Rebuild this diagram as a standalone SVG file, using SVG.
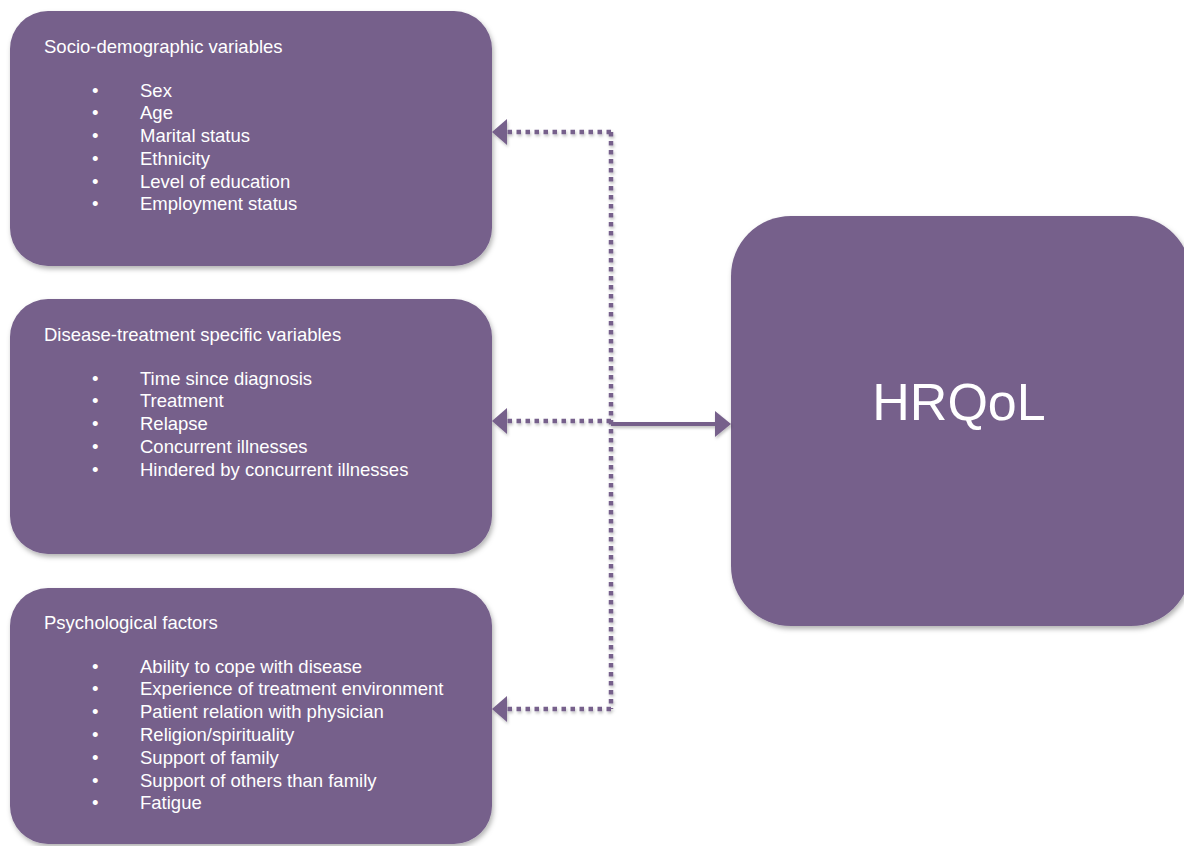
<svg xmlns="http://www.w3.org/2000/svg" width="1184" height="846" viewBox="0 0 1184 846">
  <defs>
    <filter id="sh" x="-10%" y="-10%" width="120%" height="125%">
      <feDropShadow dx="1.5" dy="3" stdDeviation="2.5" flood-color="#000" flood-opacity="0.3"/>
    </filter>
    <filter id="lsh" x="-10%" y="-50%" width="120%" height="200%">
      <feDropShadow dx="1" dy="2" stdDeviation="1.5" flood-color="#000" flood-opacity="0.25"/>
    </filter>
    <style>
      .box { fill: #76608B; filter: url(#sh); }
      .t { font-family: "Liberation Sans", Arial, sans-serif; font-size: 18.5px; fill: #ffffff; }
      .big { font-family: "Liberation Sans", Arial, sans-serif; font-size: 52px; fill: #ffffff; text-anchor: middle; }
      .dot { fill: none; stroke: #76608B; stroke-width: 4.5; stroke-dasharray: 4.5 4.5; }
      .sol { fill: none; stroke: #76608B; stroke-width: 4; }
      .ah { fill: #76608B; }
    </style>
  </defs>

  <g id="socio">
    <rect class="box" x="10" y="11" width="482" height="255" rx="38" ry="38"/>
    <text class="t" x="44" y="53">Socio-demographic variables</text>
    <text class="t" x="92" y="97">•</text><text class="t" x="140" y="97">Sex</text>
    <text class="t" x="92" y="119">•</text><text class="t" x="140" y="119">Age</text>
    <text class="t" x="92" y="142">•</text><text class="t" x="140" y="142">Marital status</text>
    <text class="t" x="92" y="165">•</text><text class="t" x="140" y="165">Ethnicity</text>
    <text class="t" x="92" y="188">•</text><text class="t" x="140" y="188">Level of education</text>
    <text class="t" x="92" y="210">•</text><text class="t" x="140" y="210">Employment status</text>
  </g>

  <g id="disease">
    <rect class="box" x="10" y="299" width="482" height="255" rx="38" ry="38"/>
    <text class="t" x="44" y="341">Disease-treatment specific variables</text>
    <text class="t" x="92" y="385">•</text><text class="t" x="140" y="385">Time since diagnosis</text>
    <text class="t" x="92" y="407">•</text><text class="t" x="140" y="407">Treatment</text>
    <text class="t" x="92" y="430">•</text><text class="t" x="140" y="430">Relapse</text>
    <text class="t" x="92" y="453">•</text><text class="t" x="140" y="453">Concurrent illnesses</text>
    <text class="t" x="92" y="476">•</text><text class="t" x="140" y="476">Hindered by concurrent illnesses</text>
  </g>

  <g id="psych">
    <rect class="box" x="10" y="588" width="482" height="256" rx="38" ry="38"/>
    <text class="t" x="44" y="629">Psychological factors</text>
    <text class="t" x="92" y="673">•</text><text class="t" x="140" y="673">Ability to cope with disease</text>
    <text class="t" x="92" y="695">•</text><text class="t" x="140" y="695">Experience of treatment environment</text>
    <text class="t" x="92" y="718">•</text><text class="t" x="140" y="718">Patient relation with physician</text>
    <text class="t" x="92" y="741">•</text><text class="t" x="140" y="741">Religion/spirituality</text>
    <text class="t" x="92" y="764">•</text><text class="t" x="140" y="764">Support of family</text>
    <text class="t" x="92" y="787">•</text><text class="t" x="140" y="787">Support of others than family</text>
    <text class="t" x="92" y="809">•</text><text class="t" x="140" y="809">Fatigue</text>
  </g>

  <g id="hrqol">
    <rect class="box" x="731" y="216" width="460" height="410" rx="60" ry="60"/>
    <text class="big" x="959" y="420">HRQoL</text>
  </g>

  <g id="connectors" filter="url(#lsh)">
    <path class="dot" d="M611 132 V709"/>
    <path class="dot" d="M611 132 H507"/>
    <path class="dot" d="M611 421 H507"/>
    <path class="dot" d="M611 709 H507"/>
    <polygon class="ah" points="492,132 507,119 507,145"/>
    <polygon class="ah" points="492,421 507,408 507,434"/>
    <polygon class="ah" points="492,709 507,696 507,722"/>
    <path class="sol" d="M611 424 H716"/>
    <polygon class="ah" points="731,424 715,411 715,437"/>
  </g>
</svg>
